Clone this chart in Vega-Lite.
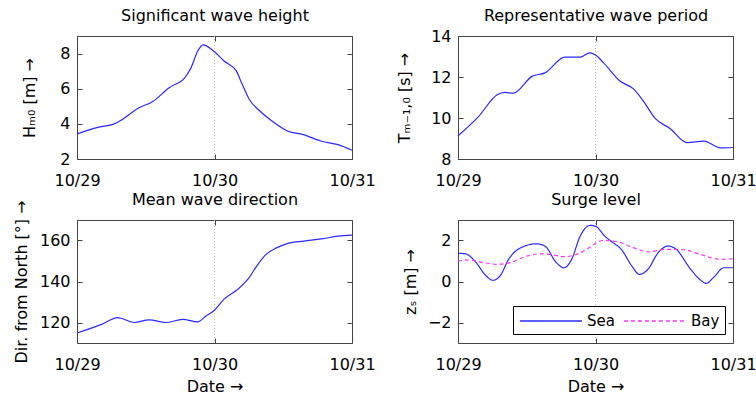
{
  "$schema": "https://vega.github.io/schema/vega-lite/v6.json",
  "background": "white",
  "padding": {"left": 12, "top": 7, "right": 0, "bottom": 0},
  "config": {
    "font": "DejaVu Sans",
    "view": {"stroke": "#444444", "strokeWidth": 1},
    "axis": {
      "domain": false,
      "grid": false,
      "tickSize": -5,
      "tickColor": "#444444",
      "labelPadding": 12,
      "labelFontSize": 16,
      "labelColor": "black",
      "labelFlush": false,
      "labelOverlap": false,
      "titleFontSize": 16,
      "titleFontWeight": "normal",
      "titleColor": "black",
      "titlePadding": 10
    },
    "axisX": {"labelPadding": 18, "titlePadding": 6},
    "axisTop": {"titlePadding": 12},
    "legend": {
      "labelFontSize": 15,
      "labelColor": "black"
    }
  },
  "datasets": {
    "hs": [
      {"t": "2012-10-29T00:00", "v": 3.43},
      {"t": "2012-10-29T03:50", "v": 3.81},
      {"t": "2012-10-29T06:30", "v": 4.0},
      {"t": "2012-10-29T07:55", "v": 4.25},
      {"t": "2012-10-29T10:35", "v": 4.88},
      {"t": "2012-10-29T13:10", "v": 5.26},
      {"t": "2012-10-29T16:05", "v": 6.06},
      {"t": "2012-10-29T18:50", "v": 6.63},
      {"t": "2012-10-29T19:55", "v": 7.2},
      {"t": "2012-10-29T21:05", "v": 8.15},
      {"t": "2012-10-29T22:00", "v": 8.5},
      {"t": "2012-10-29T22:35", "v": 8.44},
      {"t": "2012-10-30T00:00", "v": 8.1},
      {"t": "2012-10-30T01:40", "v": 7.58},
      {"t": "2012-10-30T03:50", "v": 7.0},
      {"t": "2012-10-30T04:35", "v": 6.44},
      {"t": "2012-10-30T06:05", "v": 5.39},
      {"t": "2012-10-30T07:55", "v": 4.73},
      {"t": "2012-10-30T09:55", "v": 4.19},
      {"t": "2012-10-30T12:50", "v": 3.58},
      {"t": "2012-10-30T15:30", "v": 3.39},
      {"t": "2012-10-30T18:40", "v": 3.01},
      {"t": "2012-10-30T21:35", "v": 2.82},
      {"t": "2012-10-31T00:00", "v": 2.5}
    ],
    "tp": [
      {"t": "2012-10-29T00:00", "v": 9.13},
      {"t": "2012-10-29T03:35", "v": 10.07},
      {"t": "2012-10-29T06:50", "v": 11.13},
      {"t": "2012-10-29T08:10", "v": 11.25},
      {"t": "2012-10-29T09:40", "v": 11.21},
      {"t": "2012-10-29T12:55", "v": 12.03},
      {"t": "2012-10-29T15:10", "v": 12.2},
      {"t": "2012-10-29T18:40", "v": 12.97},
      {"t": "2012-10-29T21:20", "v": 12.97},
      {"t": "2012-10-29T23:00", "v": 13.18},
      {"t": "2012-10-30T00:00", "v": 13.07},
      {"t": "2012-10-30T01:25", "v": 12.69},
      {"t": "2012-10-30T04:20", "v": 11.79},
      {"t": "2012-10-30T06:35", "v": 11.43},
      {"t": "2012-10-30T08:25", "v": 10.8},
      {"t": "2012-10-30T10:25", "v": 9.98},
      {"t": "2012-10-30T13:00", "v": 9.49},
      {"t": "2012-10-30T16:00", "v": 8.8},
      {"t": "2012-10-30T18:55", "v": 8.87},
      {"t": "2012-10-30T21:50", "v": 8.54},
      {"t": "2012-10-31T00:00", "v": 8.56}
    ],
    "dir": [
      {"t": "2012-10-29T00:00", "v": 114.9},
      {"t": "2012-10-29T04:25", "v": 119.2},
      {"t": "2012-10-29T07:05", "v": 122.4},
      {"t": "2012-10-29T10:00", "v": 120.0},
      {"t": "2012-10-29T12:35", "v": 121.3},
      {"t": "2012-10-29T15:30", "v": 120.0},
      {"t": "2012-10-29T18:25", "v": 121.5},
      {"t": "2012-10-29T21:05", "v": 120.3},
      {"t": "2012-10-29T22:30", "v": 123.2},
      {"t": "2012-10-30T00:00", "v": 126.0},
      {"t": "2012-10-30T01:40", "v": 131.4},
      {"t": "2012-10-30T04:05", "v": 136.2},
      {"t": "2012-10-30T05:50", "v": 141.1},
      {"t": "2012-10-30T07:35", "v": 148.4},
      {"t": "2012-10-30T09:00", "v": 153.2},
      {"t": "2012-10-30T10:50", "v": 156.4},
      {"t": "2012-10-30T12:50", "v": 158.6},
      {"t": "2012-10-30T15:40", "v": 159.7},
      {"t": "2012-10-30T18:40", "v": 160.8},
      {"t": "2012-10-30T21:35", "v": 162.1},
      {"t": "2012-10-31T00:00", "v": 162.6}
    ],
    "surge": [
      {"t": "2012-10-29T00:00", "v": 1.37, "s": "Sea"},
      {"t": "2012-10-29T01:10", "v": 1.36, "s": "Sea"},
      {"t": "2012-10-29T03:10", "v": 0.92, "s": "Sea"},
      {"t": "2012-10-29T04:40", "v": 0.35, "s": "Sea"},
      {"t": "2012-10-29T06:05", "v": 0.06, "s": "Sea"},
      {"t": "2012-10-29T07:20", "v": 0.27, "s": "Sea"},
      {"t": "2012-10-29T08:50", "v": 1.08, "s": "Sea"},
      {"t": "2012-10-29T10:30", "v": 1.57, "s": "Sea"},
      {"t": "2012-10-29T13:40", "v": 1.84, "s": "Sea"},
      {"t": "2012-10-29T15:10", "v": 1.73, "s": "Sea"},
      {"t": "2012-10-29T17:10", "v": 0.92, "s": "Sea"},
      {"t": "2012-10-29T18:30", "v": 0.67, "s": "Sea"},
      {"t": "2012-10-29T19:50", "v": 1.08, "s": "Sea"},
      {"t": "2012-10-29T21:20", "v": 2.22, "s": "Sea"},
      {"t": "2012-10-29T23:05", "v": 2.74, "s": "Sea"},
      {"t": "2012-10-30T00:10", "v": 2.67, "s": "Sea"},
      {"t": "2012-10-30T01:35", "v": 2.22, "s": "Sea"},
      {"t": "2012-10-30T03:05", "v": 1.89, "s": "Sea"},
      {"t": "2012-10-30T04:30", "v": 1.57, "s": "Sea"},
      {"t": "2012-10-30T06:20", "v": 0.76, "s": "Sea"},
      {"t": "2012-10-30T07:40", "v": 0.35, "s": "Sea"},
      {"t": "2012-10-30T09:10", "v": 0.6, "s": "Sea"},
      {"t": "2012-10-30T10:55", "v": 1.4, "s": "Sea"},
      {"t": "2012-10-30T12:40", "v": 1.73, "s": "Sea"},
      {"t": "2012-10-30T14:05", "v": 1.57, "s": "Sea"},
      {"t": "2012-10-30T16:25", "v": 0.67, "s": "Sea"},
      {"t": "2012-10-30T18:10", "v": 0.11, "s": "Sea"},
      {"t": "2012-10-30T19:20", "v": -0.09, "s": "Sea"},
      {"t": "2012-10-30T20:35", "v": 0.19, "s": "Sea"},
      {"t": "2012-10-30T22:25", "v": 0.67, "s": "Sea"},
      {"t": "2012-10-31T00:00", "v": 0.67, "s": "Sea"},
      {"t": "2012-10-29T00:00", "v": 1.0, "s": "Bay"},
      {"t": "2012-10-29T02:05", "v": 1.05, "s": "Bay"},
      {"t": "2012-10-29T04:25", "v": 0.92, "s": "Bay"},
      {"t": "2012-10-29T06:50", "v": 0.84, "s": "Bay"},
      {"t": "2012-10-29T09:05", "v": 0.92, "s": "Bay"},
      {"t": "2012-10-29T12:00", "v": 1.24, "s": "Bay"},
      {"t": "2012-10-29T14:20", "v": 1.35, "s": "Bay"},
      {"t": "2012-10-29T16:30", "v": 1.3, "s": "Bay"},
      {"t": "2012-10-29T18:25", "v": 1.21, "s": "Bay"},
      {"t": "2012-10-29T20:10", "v": 1.28, "s": "Bay"},
      {"t": "2012-10-29T22:30", "v": 1.57, "s": "Bay"},
      {"t": "2012-10-30T00:10", "v": 1.89, "s": "Bay"},
      {"t": "2012-10-30T01:20", "v": 2.0, "s": "Bay"},
      {"t": "2012-10-30T03:40", "v": 1.95, "s": "Bay"},
      {"t": "2012-10-30T06:35", "v": 1.65, "s": "Bay"},
      {"t": "2012-10-30T09:30", "v": 1.44, "s": "Bay"},
      {"t": "2012-10-30T11:55", "v": 1.57, "s": "Bay"},
      {"t": "2012-10-30T15:25", "v": 1.55, "s": "Bay"},
      {"t": "2012-10-30T18:10", "v": 1.33, "s": "Bay"},
      {"t": "2012-10-30T21:50", "v": 1.08, "s": "Bay"},
      {"t": "2012-10-31T00:00", "v": 1.11, "s": "Bay"}
    ]
  },
  "bounds": "flush",
  "columns": 2,
  "spacing": {"row": 61, "column": 106},
  "concat": [
    {
      "width": 275, "height": 123,
      "data": {"name": "hs"},
      "layer": [
        {"mark": {"type": "rule", "color": "#bbbbbb", "strokeDash": [1, 2], "strokeWidth": 1},
         "encoding": {"x": {"datum": {"year": 2012, "month": 10, "date": 30}, "type": "temporal", "axis": null}}},
        {"mark": {"type": "line", "color": "#2a2aff", "strokeWidth": 1.2, "interpolate": "monotone"},
         "encoding": {
           "x": {"field": "t", "type": "temporal", "scale": {"domain": [{"year": 2012, "month": 10, "date": 29}, {"year": 2012, "month": 10, "date": 31}]},
                 "axis": {"orient": "bottom", "title": null, "format": "%m/%d", "values": [{"year": 2012, "month": 10, "date": 29}, {"year": 2012, "month": 10, "date": 30}, {"year": 2012, "month": 10, "date": 31}]}},
           "y": {"field": "v", "type": "quantitative", "scale": {"domain": [2, 9], "nice": false, "zero": false},
                 "axis": {"orient": "left", "title": "Hₘ₀ [m] →", "titlePadding": 22, "values": [2, 4, 6, 8]}}
         }},
        {"mark": {"type": "point", "opacity": 0},
         "encoding": {
           "x": {"field": "t", "type": "temporal", "axis": {"orient": "top", "labels": false, "title": "Significant wave height", "values": [{"year": 2012, "month": 10, "date": 29}, {"year": 2012, "month": 10, "date": 30}, {"year": 2012, "month": 10, "date": 31}]}},
           "y": {"field": "v", "type": "quantitative", "axis": {"orient": "right", "labels": false, "title": null, "values": [2, 4, 6, 8]}}
         }}
      ],
      "resolve": {"axis": {"x": "independent", "y": "independent"}}
    },
    {
      "width": 275, "height": 123,
      "data": {"name": "tp"},
      "layer": [
        {"mark": {"type": "rule", "color": "#bbbbbb", "strokeDash": [1, 2], "strokeWidth": 1},
         "encoding": {"x": {"datum": {"year": 2012, "month": 10, "date": 30}, "type": "temporal", "axis": null}}},
        {"mark": {"type": "line", "color": "#2a2aff", "strokeWidth": 1.2, "interpolate": "monotone"},
         "encoding": {
           "x": {"field": "t", "type": "temporal", "scale": {"domain": [{"year": 2012, "month": 10, "date": 29}, {"year": 2012, "month": 10, "date": 31}]},
                 "axis": {"orient": "bottom", "title": null, "format": "%m/%d", "values": [{"year": 2012, "month": 10, "date": 29}, {"year": 2012, "month": 10, "date": 30}, {"year": 2012, "month": 10, "date": 31}]}},
           "y": {"field": "v", "type": "quantitative", "scale": {"domain": [8, 14], "nice": false, "zero": false},
                 "axis": {"orient": "left", "title": "Tₘ₋₁,₀ [s] →", "titlePadding": 18, "values": [8, 10, 12, 14]}}
         }},
        {"mark": {"type": "point", "opacity": 0},
         "encoding": {
           "x": {"field": "t", "type": "temporal", "axis": {"orient": "top", "labels": false, "title": "Representative wave period", "values": [{"year": 2012, "month": 10, "date": 29}, {"year": 2012, "month": 10, "date": 30}, {"year": 2012, "month": 10, "date": 31}]}},
           "y": {"field": "v", "type": "quantitative", "axis": {"orient": "right", "labels": false, "title": null, "values": [8, 10, 12, 14]}}
         }}
      ],
      "resolve": {"axis": {"x": "independent", "y": "independent"}}
    },
    {
      "width": 275, "height": 123,
      "data": {"name": "dir"},
      "layer": [
        {"mark": {"type": "rule", "color": "#bbbbbb", "strokeDash": [1, 2], "strokeWidth": 1},
         "encoding": {"x": {"datum": {"year": 2012, "month": 10, "date": 30}, "type": "temporal", "axis": null}}},
        {"mark": {"type": "line", "color": "#2a2aff", "strokeWidth": 1.2, "interpolate": "monotone"},
         "encoding": {
           "x": {"field": "t", "type": "temporal", "scale": {"domain": [{"year": 2012, "month": 10, "date": 29}, {"year": 2012, "month": 10, "date": 31}]},
                 "axis": {"orient": "bottom", "title": "Date →", "format": "%m/%d", "values": [{"year": 2012, "month": 10, "date": 29}, {"year": 2012, "month": 10, "date": 30}, {"year": 2012, "month": 10, "date": 31}]}},
           "y": {"field": "v", "type": "quantitative", "scale": {"domain": [110, 170], "nice": false, "zero": false},
                 "axis": {"orient": "left", "title": "Dir. from North [°] →", "values": [120, 140, 160]}}
         }},
        {"mark": {"type": "point", "opacity": 0},
         "encoding": {
           "x": {"field": "t", "type": "temporal", "axis": {"orient": "top", "labels": false, "title": "Mean wave direction", "values": [{"year": 2012, "month": 10, "date": 29}, {"year": 2012, "month": 10, "date": 30}, {"year": 2012, "month": 10, "date": 31}]}},
           "y": {"field": "v", "type": "quantitative", "axis": {"orient": "right", "labels": false, "title": null, "values": [120, 140, 160]}}
         }}
      ],
      "resolve": {"axis": {"x": "independent", "y": "independent"}}
    },
    {
      "width": 275, "height": 123,
      "data": {"name": "surge"},
      "layer": [
        {"mark": {"type": "rule", "color": "#bbbbbb", "strokeDash": [1, 2], "strokeWidth": 1},
         "encoding": {"x": {"datum": {"year": 2012, "month": 10, "date": 30}, "type": "temporal", "axis": null}}},
        {"mark": {"type": "line", "strokeWidth": 1.2, "interpolate": "monotone"},
         "encoding": {
           "x": {"field": "t", "type": "temporal", "scale": {"domain": [{"year": 2012, "month": 10, "date": 29}, {"year": 2012, "month": 10, "date": 31}]},
                 "axis": {"orient": "bottom", "title": "Date →", "format": "%m/%d", "values": [{"year": 2012, "month": 10, "date": 29}, {"year": 2012, "month": 10, "date": 30}, {"year": 2012, "month": 10, "date": 31}]}},
           "y": {"field": "v", "type": "quantitative", "scale": {"domain": [-3, 3], "nice": false, "zero": false},
                 "axis": {"orient": "left", "title": "zₛ [m] →", "titlePadding": 9, "values": [-2, 0, 2]}},
           "color": {"field": "s", "type": "nominal", "scale": {"domain": ["Sea", "Bay"], "range": ["#2a2aff", "#ff33ff"]},
                     "legend": {"title": null, "orient": "none", "legendX": 436, "legendY": 270, "direction": "horizontal", "columns": 2,
                                "symbolType": "M-0.9,0H6", "symbolSize": 324, "symbolStrokeWidth": 1.3,
                                "strokeColor": "black", "fillColor": "white", "padding": 5, "labelOffset": 49, "columnPadding": 6}},
           "strokeDash": {"field": "s", "type": "nominal", "scale": {"domain": ["Sea", "Bay"], "range": [[1, 0], [4, 3]]},
                          "legend": {"title": null, "orient": "none", "legendX": 436, "legendY": 270, "direction": "horizontal", "columns": 2,
                                     "symbolType": "M-0.9,0H6", "symbolSize": 324, "symbolStrokeWidth": 1.3,
                                     "strokeColor": "black", "fillColor": "white", "padding": 5, "labelOffset": 49, "columnPadding": 6}}
         }},
        {"mark": {"type": "point", "opacity": 0},
         "encoding": {
           "x": {"field": "t", "type": "temporal", "axis": {"orient": "top", "labels": false, "title": "Surge level", "values": [{"year": 2012, "month": 10, "date": 29}, {"year": 2012, "month": 10, "date": 30}, {"year": 2012, "month": 10, "date": 31}]}},
           "y": {"field": "v", "type": "quantitative", "axis": {"orient": "right", "labels": false, "title": null, "values": [-2, 0, 2]}}
         }}
      ],
      "resolve": {"axis": {"x": "independent", "y": "independent"}}
    }
  ]
}
